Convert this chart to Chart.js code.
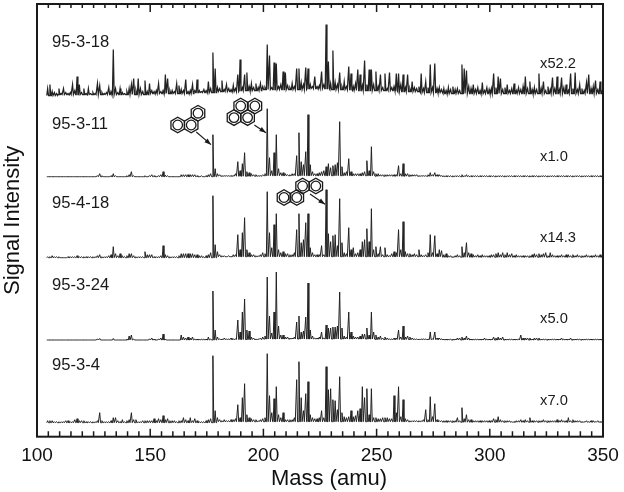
<!DOCTYPE html>
<html>
<head>
<meta charset="utf-8">
<style>
  html, body { margin: 0; background: #fff; }
  canvas { display: block; }
</style>
<script src="https://cdn.jsdelivr.net/npm/chart.js@4/dist/chart.umd.js"></script>
</head>
<body>
<canvas id="chart" width="624" height="492"></canvas>
<script>
const sampleNames = ['95-3-18', '95-3-11', '95-4-18', '95-3-24', '95-3-4'];
const scaleFactors = ['x52.2', 'x1.0', 'x14.3', 'x5.0', 'x7.0'];
const xTickLabels = [100, 150, 200, 250, 300, 350];
const firstMass = 105;

// signal per amu, first row 105-109 then one row per ten amu, last value is 350
const spectrum18 = [
  8,12,5,4,3,
  8,3,8,4,3,4,12,6,20,12,
  4,8,3,8,3,4,3,13,11,4,
  3,4,9,5,47,8,4,8,4,3,
  5,8,12,18,6,18,8,5,16,5,
  13,6,5,6,13,5,6,22,18,6,
  6,5,13,11,7,6,17,5,6,12,
  6,17,6,5,7,6,15,8,44,28,
  9,8,16,7,12,8,7,11,8,22,
  37,9,22,24,10,13,9,13,9,13,
  10,9,52,41,9,34,33,10,12,25,
  24,11,9,13,10,28,28,14,12,29,
  28,12,10,20,10,11,25,12,72,35,
  13,46,14,12,24,10,15,10,30,23,
  10,13,27,22,11,36,12,27,27,12,
  25,10,22,9,23,8,24,9,10,23,
  23,12,22,9,22,8,15,9,8,10,
  23,8,15,9,32,9,33,8,9,7,
  8,6,9,7,10,7,8,6,32,28,
  26,10,8,12,7,9,6,14,6,9,
  7,8,23,9,20,18,7,9,12,6,
  8,13,6,9,7,10,20,8,15,7,
  9,7,23,8,15,6,10,7,19,8,
  20,7,19,9,12,6,23,8,24,7,
  12,8,6,14,22,8,10,16,7,15,
  6
];
const spectrum11 = [
  0,0,0,0,0,
  0,0,0,0,0,0,0,0,0,0,
  0,0,0,0,0,0,0,1,3,1,
  0,0,0,1,3,1,0,0,0,0,
  1,2,5,1,0,0,0,0,1,0,
  1,2,1,0,1,2,5,1.5,1,0,
  0,0,0,0,2,2,2,2,2,2,
  2,1,0,1,0,1,2,3,42,8,
  3,2,1,1,1,1,1,1,3,15,
  6,13,24,5,4,3,2,2,1,1,
  2,3,68,19,6,24,42,8,4,4,
  3,2,2,3,3,21,44,15,12,25,
  62,12,5,3,3,4,5,6,10,13,
  9,11,12,14,55,10,4,5,18,5,
  3,3,3,3,4,5,16,6,30,5,
  3,3,2,2,2,2,2,2,2,2,
  11,3,13,3,3,2,2,2,2,1,
  1,1,1,2,4,2,4,2,2,1,
  1,1,1,1,1,1,1,1,2,1,
  2,1,1,1,1,1,1,1,1,1,
  1,1,1,1,1,1,1,1,1,1,
  1,1,1,1,1,1,1,1,1,1,
  1,1,1,1,1,1,1,1,1,1,
  1,1,1,1,1,1,1,1,1,1,
  1,1,1,1,1,1,1,1,1,1,
  1
];
const spectrum418 = [
  1,1,2,1,1,
  1,0,0,0,1,1,1,1,2,1,
  1,1,1,1,1,1,1,2,3,1,
  1,1,2,3,11,4,2,4,2,1,
  2,4,4,2,1,1,1,1,6,3,
  3,3,1,1,1,2,12,3,2,1,
  1,1,1,2,4,4,4,4,4,4,
  3,3,2,2,1,2,3,5,62,13,
  6,3,2,2,1,2,1,3,3,23,
  8,25,40,8,5,3,3,2,2,3,
  5,4,66,25,10,33,44,8,5,6,
  4,4,3,3,5,28,44,15,18,35,
  44,10,5,3,3,3,12,3,68,24,
  16,22,23,12,59,15,5,4,30,8,
  10,4,5,8,16,18,29,16,49,8,
  11,4,11,3,10,3,2,4,6,5,
  28,8,36,6,4,4,3,4,3,8,
  3,2,3,5,23,5,22,4,8,7,
  3,4,2,2,1,2,3,2,11,5,
  15,5,4,3,2,3,2,3,2,2,
  2,3,3,4,5,3,5,3,5,3,
  4,2,3,2,2,2,2,2,2,3,
  4,3,4,3,4,5,2,5,3,2,
  2,2,3,2,3,3,2,3,2,3,
  2,2,2,3,2,2,2,3,2,3,
  2
];
const spectrum24 = [
  0,0,0,0,0,
  0,0,0,0,0,0,0,0,0,0,
  0,0,0,0,0,0,0,1,1.5,0,
  0,0,0,0,1.5,0,0,0,0,0,
  1,4,5,1,0,0,0,0,0,0,
  1,2,1,0,1,2,6,1,0,0,
  0,0,0,0,5,3,2,3,2,3,
  1,1,1,1,1,1,3,1,49,10,
  3,1,1,2,1,1,2,1,1,20,
  8,28,41,10,9,3,2,1,1,2,
  3,4,63,24,7,28,68,14,5,5,
  3,3,2,2,3,18,24,8,9,23,
  57,10,4,2,2,3,8,2,15,12,
  12,13,13,14,48,12,4,3,28,8,
  4,3,3,4,6,6,12,5,28,8,
  5,3,4,2,3,2,1,1,2,2,
  10,3,14,3,4,3,2,1,1,1,
  1,1,1,1,8,1,8,2,2,1,
  1,1,1,1,1,1,2,2,3,2,
  4,2,1,1,1,1,1,1,2,1,
  1,1,3,2,3,2,3,1,1,1,
  1,1,1,1,5,2,2,2,2,1,
  2,2,2,1,1,1,1,1,1,1,
  1,1,2,1,1,1,2,1,1,1,
  1,1,1,1,1,1,1,1,1,1,
  1
];
const spectrum4 = [
  2,2,2,1,1,
  1,1,1,2,2,1,1,3,4,2,
  2,2,1,1,1,1,1,2,10,2,
  1,1,1,2,5,5,2,1,3,1,
  2,3,10,3,3,1,1,2,2,2,
  2,2,4,2,4,3,7,3,4,2,
  2,2,1,2,2,5,3,2,5,2,
  4,2,1,1,1,2,3,4,67,12,
  5,3,2,3,2,2,3,3,4,18,
  5,25,39,8,5,4,3,3,2,3,
  4,5,69,27,10,24,36,8,5,10,
  3,3,3,3,5,43,61,25,12,29,
  41,8,5,4,4,5,12,5,56,33,
  34,23,22,13,46,10,6,5,6,12,
  6,7,12,14,36,25,34,8,34,5,
  5,4,4,5,5,5,4,4,27,10,
  36,6,23,4,3,2,2,2,2,2,
  2,3,13,3,26,6,19,3,2,2,
  2,2,2,2,2,2,5,2,15,4,
  8,3,3,2,2,2,2,2,2,2,
  2,2,4,3,6,3,2,2,2,2,
  1,1,2,2,3,2,3,2,5,2,
  2,2,2,2,3,2,2,2,2,2,
  3,2,3,2,2,5,2,3,2,2,
  2,1,1,2,1,2,2,1,2,1,
  1
];

// level between the sticks, one value per ten amu from 100 to 350
const floor18 = [1,2,2,2,2,3,3,4,5,6,7,7,8,7,6,6,5,4,3,3,3,3,3,3,3,3];
const floor11 = [0,0,0,0,0,0,0,0,0.5,0.5,1,1,1,1,1,0.5,0.5,0.5,0,0,0,0,0,0,0,0];
const floor418 = [0,0,0,0,0,0,0,0,1,1,1,1,1,1,1,1,1,1,0.5,0.5,0.5,0.5,0.5,0.5,0.5,0.5];
const floor24 = [0,0,0,0,0,0,0,0,0.5,0.5,1,1,1,1,1,0.5,0.5,0.5,0,0,0,0,0,0,0,0];
const floor4 = [0,0,0,0,0,0,0,0,1,1,1,1,1,1,1,1,1,1,0.5,0.5,0.5,0.5,0.5,0.5,0.5,0.5];

// vertical stacking of the five traces
const baselines = [340.2, 260, 179, 96.7, 14];
const nameLevels = [54, 52.5, 54, 55, 57];
const factorLevels = [33, 19.5, 19.5, 21, 22];

const series = [spectrum18, spectrum11, spectrum418, spectrum24, spectrum4];
const floors = [floor18, floor11, floor418, floor24, floor4];
const traceWidths = [1.25, 1, 1, 1, 1];

// each mass is a narrow stick standing on the floor level
function sticks(values, floor, base) {
  const pts = [];
  values.forEach((v, i) => {
    const m = firstMass + i;
    const f = floor[Math.floor((m - 100) / 10)];
    const shown = m - 0.3;
    pts.push({ x: shown - 0.38, y: base + f });
    pts.push({ x: shown, y: base + Math.max(v, f) });
    pts.push({ x: shown + 0.38, y: base + f });
  });
  return pts;
}

function ring(ctx, x, y) {
  const r = 7.8;
  ctx.beginPath();
  for (let i = 0; i < 6; i++) {
    const a = Math.PI / 6 + i * Math.PI / 3;
    ctx.lineTo(x + r * Math.cos(a), y + r * Math.sin(a));
  }
  ctx.closePath();
  ctx.stroke();
  ctx.beginPath();
  ctx.arc(x, y, 4.8, 0, Math.PI * 2);
  ctx.stroke();
}

function arrow(ctx, x1, y1, x2, y2) {
  const a = Math.atan2(y2 - y1, x2 - x1);
  ctx.beginPath();
  ctx.moveTo(x1, y1);
  ctx.lineTo(x2, y2);
  ctx.stroke();
  ctx.beginPath();
  ctx.moveTo(x2, y2);
  ctx.lineTo(x2 - 7 * Math.cos(a - 0.35), y2 - 7 * Math.sin(a - 0.35));
  ctx.lineTo(x2 - 7 * Math.cos(a + 0.35), y2 - 7 * Math.sin(a + 0.35));
  ctx.closePath();
  ctx.fill();
}

const decorations = {
  id: 'decorations',
  afterLayout(chart) {
    // axis title sits a little right of the plot centre
    const s = chart.scales.x;
    if (!s._shifted) {
      const draw = s.drawTitle;
      s.drawTitle = function () {
        chart.ctx.save();
        chart.ctx.translate(9, 0);
        draw.call(s);
        chart.ctx.restore();
      };
      s._shifted = true;
    }
  },
  afterDraw(chart) {
    const { ctx, chartArea: area, scales: { x, y } } = chart;
    ctx.save();
    ctx.strokeStyle = '#1a1a1a';
    ctx.fillStyle = '#1a1a1a';

    ctx.textBaseline = 'middle';
    ctx.textAlign = 'left';
    sampleNames.forEach((name, i) => {
      ctx.font = '16.6px "Liberation Sans"';
      ctx.fillText(name, x.getPixelForValue(106.6), y.getPixelForValue(baselines[i] + nameLevels[i]));
    });
    scaleFactors.forEach((label, i) => {
      ctx.font = '14.7px "Liberation Sans"';
      ctx.fillText(label, x.getPixelForValue(322.2), y.getPixelForValue(baselines[i] + factorLevels[i]));
    });

    ctx.lineWidth = 1.3;
    [[177.7, 125], [191.2, 125], [198, 113.2]].forEach(c => ring(ctx, c[0], c[1]));
    [[240.7, 106], [254.9, 106], [234, 117.6], [247.6, 117.6]].forEach(c => ring(ctx, c[0], c[1]));
    [[284, 197.5], [296.8, 197.5], [302.6, 186], [315.8, 186]].forEach(c => ring(ctx, c[0], c[1]));
    ctx.lineWidth = 1.1;
    arrow(ctx, 196.3, 132, 211, 144.7);
    arrow(ctx, 254.3, 125, 266, 132.7);
    arrow(ctx, 310, 194, 325, 204.3);

    ctx.lineWidth = 1.5;
    for (let m = 100; m <= 350; m += 5) {
      const px = x.getPixelForValue(m);
      const major = m % 50 === 0;
      ctx.beginPath();
      ctx.moveTo(px, area.top);
      ctx.lineTo(px, area.top + (major ? 8 : 4));
      ctx.moveTo(px, area.bottom);
      ctx.lineTo(px, area.bottom - (major ? 8 : 5.5));
      ctx.stroke();
    }
    ctx.lineWidth = 2;
    ctx.strokeRect(area.left, area.top, area.right - area.left, area.bottom - area.top);
    ctx.restore();
  }
};

new Chart(document.getElementById('chart'), {
  type: 'line',
  data: {
    datasets: series.map((values, i) => ({
      label: sampleNames[i],
      data: sticks(values, floors[i], baselines[i]),
      borderColor: '#222',
      borderWidth: traceWidths[i],
      pointRadius: 0,
      tension: 0
    }))
  },
  options: {
    responsive: false,
    animation: false,
    layout: { padding: { top: 4, right: 21, left: 0, bottom: 0 } },
    plugins: { legend: { display: false }, tooltip: { enabled: false } },
    scales: {
      x: {
        type: 'linear',
        min: 100,
        max: 350,
        afterFit(s) { s.height = 55.3; },
        afterBuildTicks(s) { s.ticks = xTickLabels.map(v => ({ value: v })); },
        grid: { display: false },
        border: { display: false },
        ticks: {
          autoSkip: false,
          maxRotation: 0,
          padding: 0,
          color: '#111',
          font: { family: 'Liberation Sans', size: 19 }
        },
        title: {
          display: true,
          text: 'Mass (amu)',
          color: '#111',
          padding: 0,
          font: { family: 'Liberation Sans', size: 22 }
        }
      },
      y: {
        min: 0,
        max: 432.7,
        afterFit(s) { s.width = 37; },
        grid: { display: false },
        border: { display: false },
        ticks: { display: false },
        title: {
          display: true,
          text: 'Signal Intensity',
          color: '#111',
          padding: 0,
          font: { family: 'Liberation Sans', size: 22 }
        }
      }
    }
  },
  plugins: [decorations]
});
</script>
</body>
</html>
